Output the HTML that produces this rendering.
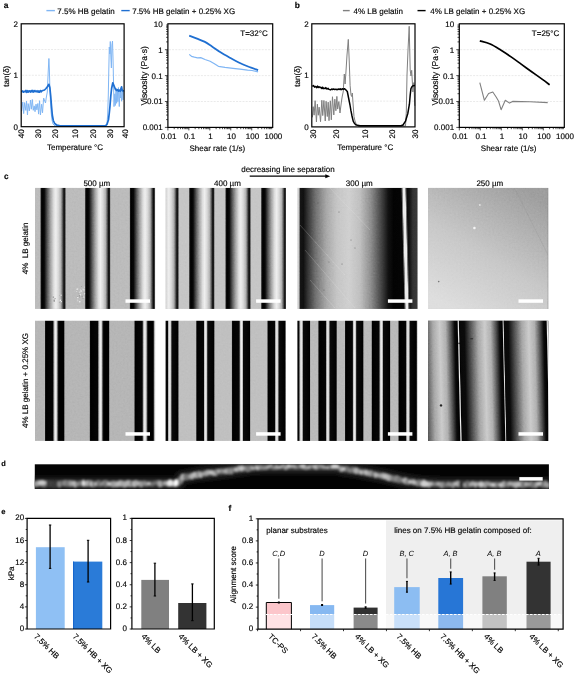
<!DOCTYPE html>
<html><head><meta charset="utf-8"><style>
html,body{margin:0;padding:0;background:#fff;overflow:hidden}
svg{display:block;will-change:transform}
text{font-family:"Liberation Sans",sans-serif;text-rendering:geometricPrecision;stroke:currentColor;stroke-width:0.15px;paint-order:stroke}
</style></head><body>
<svg width="575" height="674" viewBox="0 0 575 674" font-family="Liberation Sans, sans-serif">
<defs><linearGradient id="p1" x1="0" y1="0" x2="1" y2="0"><stop offset="0" stop-color="#9a9a9a"/><stop offset="0.03" stop-color="#151515"/><stop offset="0.07" stop-color="#000"/><stop offset="0.16" stop-color="#080808"/><stop offset="0.29" stop-color="#606060"/><stop offset="0.4" stop-color="#a2a2a2"/><stop offset="0.53" stop-color="#dedede"/><stop offset="0.61" stop-color="#efefef"/><stop offset="0.71" stop-color="#d8d8d8"/><stop offset="0.81" stop-color="#b0b0b0"/><stop offset="0.88" stop-color="#505050"/><stop offset="0.93" stop-color="#080808"/><stop offset="0.97" stop-color="#222"/><stop offset="1" stop-color="#8a8a8a"/></linearGradient><linearGradient id="p2" x1="0" y1="0" x2="1" y2="0"><stop offset="0" stop-color="#303030"/><stop offset="0.04" stop-color="#000"/><stop offset="0.4" stop-color="#050505"/><stop offset="0.47" stop-color="#bdbdbd"/><stop offset="0.53" stop-color="#f4f4f4"/><stop offset="0.6" stop-color="#d0d0d0"/><stop offset="0.68" stop-color="#151515"/><stop offset="0.72" stop-color="#000"/><stop offset="0.97" stop-color="#000"/><stop offset="1" stop-color="#404040"/></linearGradient><linearGradient id="p3" x1="0" y1="0" x2="1" y2="0"><stop offset="0" stop-color="#303030"/><stop offset="0.04" stop-color="#000"/><stop offset="0.4" stop-color="#050505"/><stop offset="0.45" stop-color="#c0c0c0"/><stop offset="0.52" stop-color="#f2f2f2"/><stop offset="0.58" stop-color="#c0c0c0"/><stop offset="0.63" stop-color="#0a0a0a"/><stop offset="0.97" stop-color="#000"/><stop offset="1" stop-color="#404040"/></linearGradient><linearGradient id="p13" x1="0" y1="0" x2="1" y2="0"><stop offset="0" stop-color="#c8c8c8"/><stop offset="0.012" stop-color="#d0d0d0"/><stop offset="0.025" stop-color="#151515"/><stop offset="0.05" stop-color="#101010"/><stop offset="0.085" stop-color="#333"/><stop offset="0.15" stop-color="#707070"/><stop offset="0.24" stop-color="#a8a8a8"/><stop offset="0.33" stop-color="#c6c6c6"/><stop offset="0.43" stop-color="#d0d0d0"/><stop offset="0.52" stop-color="#c0c0c0"/><stop offset="0.61" stop-color="#8e8e8e"/><stop offset="0.7" stop-color="#424242"/><stop offset="0.755" stop-color="#111"/><stop offset="0.8" stop-color="#030303"/><stop offset="0.9" stop-color="#050505"/><stop offset="0.93" stop-color="#111"/><stop offset="0.96" stop-color="#333"/><stop offset="1" stop-color="#3a3a3a"/></linearGradient><linearGradient id="p14" x1="0.2" y1="1" x2="0.8" y2="0"><stop offset="0" stop-color="#dedede"/><stop offset="0.45" stop-color="#c8c8c8"/><stop offset="1" stop-color="#9e9e9e"/></linearGradient><linearGradient id="p24" x1="0" y1="0" x2="1" y2="0"><stop offset="0" stop-color="#080808"/><stop offset="0.1" stop-color="#0a0a0a"/><stop offset="0.25" stop-color="#5a5a5a"/><stop offset="0.4" stop-color="#a8a8a8"/><stop offset="0.55" stop-color="#cccccc"/><stop offset="0.68" stop-color="#b0b0b0"/><stop offset="0.8" stop-color="#505050"/><stop offset="0.88" stop-color="#0a0a0a"/><stop offset="0.94" stop-color="#000"/><stop offset="0.95" stop-color="#606060"/><stop offset="0.965" stop-color="#f8f8f8"/><stop offset="0.98" stop-color="#808080"/><stop offset="0.99" stop-color="#000"/><stop offset="1" stop-color="#000"/></linearGradient><filter id="grain" x="0" y="0" width="100%" height="100%" color-interpolation-filters="sRGB"><feTurbulence type="fractalNoise" baseFrequency="0.55" numOctaves="2" seed="3"/><feColorMatrix type="matrix" values="0.33 0.33 0.33 0 0 0.33 0.33 0.33 0 0 0.33 0.33 0.33 0 0 0 0 0 0 1"/></filter><clipPath id="c1"><rect x="35.00" y="187.80" width="120.30" height="121.10"/></clipPath><clipPath id="c2"><rect x="165.60" y="187.80" width="120.30" height="121.10"/></clipPath><clipPath id="c3"><rect x="297.40" y="187.80" width="120.30" height="121.10"/></clipPath><clipPath id="c4"><rect x="428.00" y="187.80" width="120.30" height="121.10"/></clipPath><clipPath id="c5"><rect x="35.00" y="320.60" width="120.30" height="120.30"/></clipPath><clipPath id="c6"><rect x="165.60" y="320.60" width="120.30" height="120.30"/></clipPath><clipPath id="c7"><rect x="297.40" y="320.60" width="120.30" height="120.30"/></clipPath><clipPath id="c8"><rect x="428.00" y="320.60" width="120.30" height="120.30"/></clipPath><clipPath id="cd"><rect x="34.8" y="464.3" width="514.10" height="24.70"/></clipPath><filter id="bl1" x="-5%" y="-50%" width="110%" height="200%"><feGaussianBlur stdDeviation="1.3"/></filter><filter id="bl2" x="-5%" y="-50%" width="110%" height="200%"><feGaussianBlur stdDeviation="0.8"/></filter></defs><rect width="575" height="674" fill="#fff"/>
<text x="3.80" y="7.90" font-size="8.4" text-anchor="start" font-weight="bold" font-style="normal" fill="#000">a</text>
<line x1="46.40" y1="10.60" x2="54.90" y2="10.60" stroke="#80b6f4" stroke-width="1.4"/>
<text x="57.30" y="13.60" font-size="8" text-anchor="start" font-weight="normal" font-style="normal" fill="#000">7.5% HB gelatin</text>
<line x1="121.30" y1="10.60" x2="129.70" y2="10.60" stroke="#1f6fd1" stroke-width="1.4"/>
<text x="132.20" y="13.60" font-size="8" text-anchor="start" font-weight="normal" font-style="normal" fill="#000">7.5% HB gelatin + 0.25% XG</text>
<line x1="22.20" y1="100.97" x2="123.10" y2="100.97" stroke="#e4e4e4" stroke-width="0.8" stroke-dasharray="2,1.2"/>
<line x1="22.20" y1="75.25" x2="123.10" y2="75.25" stroke="#e4e4e4" stroke-width="0.8" stroke-dasharray="2,1.2"/>
<line x1="22.20" y1="49.52" x2="123.10" y2="49.52" stroke="#e4e4e4" stroke-width="0.8" stroke-dasharray="2,1.2"/>
<text x="18.00" y="26.70" font-size="8" text-anchor="end" font-weight="normal" font-style="normal" fill="#000">2</text>
<text x="18.00" y="78.15" font-size="8" text-anchor="end" font-weight="normal" font-style="normal" fill="#000">1</text>
<text x="18.00" y="129.60" font-size="8" text-anchor="end" font-weight="normal" font-style="normal" fill="#000">0</text>
<text x="24.30" y="129.30" font-size="8" text-anchor="end" font-weight="normal" font-style="normal" fill="#000" transform="rotate(-90 24.299999999999997 129.3)">40</text>
<text x="40.90" y="129.30" font-size="8" text-anchor="end" font-weight="normal" font-style="normal" fill="#000" transform="rotate(-90 40.9 129.3)">30</text>
<text x="58.00" y="129.30" font-size="8" text-anchor="end" font-weight="normal" font-style="normal" fill="#000" transform="rotate(-90 58.0 129.3)">20</text>
<text x="77.90" y="129.30" font-size="8" text-anchor="end" font-weight="normal" font-style="normal" fill="#000" transform="rotate(-90 77.9 129.3)">10</text>
<text x="95.90" y="129.30" font-size="8" text-anchor="end" font-weight="normal" font-style="normal" fill="#000" transform="rotate(-90 95.9 129.3)">20</text>
<text x="113.00" y="129.30" font-size="8" text-anchor="end" font-weight="normal" font-style="normal" fill="#000" transform="rotate(-90 113.0 129.3)">30</text>
<text x="127.90" y="129.30" font-size="8" text-anchor="end" font-weight="normal" font-style="normal" fill="#000" transform="rotate(-90 127.9 129.3)">40</text>
<text x="8.90" y="76.20" font-size="8" text-anchor="middle" font-weight="normal" font-style="normal" fill="#000" transform="rotate(-90 8.9 76.2)">tan(δ)</text>
<text x="75.00" y="150.30" font-size="8" text-anchor="middle" font-weight="normal" font-style="normal" fill="#000">Temperature °C</text>
<polyline points="21.60,111.25 22.81,102.05 23.66,113.58 24.63,102.62 25.80,110.40 26.52,101.04 27.48,115.01 28.18,103.64 29.32,110.92 30.58,100.04 31.30,109.19 32.33,99.53 33.25,110.31 34.21,105.86 35.04,111.68 36.04,104.15 36.88,109.85 37.85,103.50 38.57,114.10 39.60,100.73 40.41,114.98 41.63,104.23 42.53,112.75 43.65,98.07 45.50,103.00 46.20,98.00 47.30,92.00 48.20,72.00 48.90,58.50 49.40,70.00 49.80,86.00 50.40,100.00 51.10,112.00 52.00,120.00 53.00,124.00 55.00,126.00 60.00,126.20 106.00,126.20 107.00,124.00 107.70,114.00 108.30,95.00 108.80,70.00 109.30,47.00 109.80,54.00 110.30,41.50 110.90,58.00 111.40,68.00 111.90,45.00 112.50,41.00 113.00,58.00 113.50,81.00 114.00,106.59 114.82,93.82 115.31,105.46 116.05,88.09 116.63,103.32 117.32,88.92 117.84,101.68 118.45,87.59 119.29,106.53 119.96,90.19 120.52,97.99 120.98,90.00 121.56,101.20 122.36,89.43 123.04,99.86 123.50,91.31" fill="none" stroke="#80b6f4" stroke-width="1.0" stroke-linejoin="round"/>
<polyline points="21.60,91.85 22.52,91.02 23.48,92.16 24.15,91.30 25.23,91.82 25.98,90.44 26.87,92.29 27.76,90.72 28.47,92.09 29.57,90.79 30.60,92.09 31.26,90.57 32.21,91.76 32.86,90.46 33.74,92.09 34.85,90.56 35.97,91.78 37.04,90.76 38.17,92.16 38.85,90.99 39.60,92.22 40.47,90.55 41.26,91.81 42.10,90.76 44.50,90.00 46.00,88.50 47.50,86.50 48.90,84.30 49.90,88.00 50.70,96.00 51.50,106.00 52.30,115.00 53.30,120.50 54.70,123.50 57.00,125.20 60.00,125.80 105.40,125.90 107.00,124.30 108.50,119.70 109.30,113.00 110.00,105.80 110.80,96.00 111.60,88.50 112.80,82.80 114.00,85.80 115.50,89.40 116.80,90.50 117.80,89.80 118.60,91.00 119.40,90.20 120.20,91.30 121.00,88.50 121.60,86.80 122.20,90.50 123.00,91.00 124.00,90.40" fill="none" stroke="#1f6fd1" stroke-width="1.7" stroke-linejoin="round"/>
<rect x="21.20" y="23.80" width="102.90" height="102.90" fill="none" stroke="#000" stroke-width="1.2"/>
<line x1="168.90" y1="49.70" x2="271.70" y2="49.70" stroke="#e4e4e4" stroke-width="0.8" stroke-dasharray="2,1.2"/>
<line x1="168.90" y1="75.60" x2="271.70" y2="75.60" stroke="#e4e4e4" stroke-width="0.8" stroke-dasharray="2,1.2"/>
<line x1="168.90" y1="101.50" x2="271.70" y2="101.50" stroke="#e4e4e4" stroke-width="0.8" stroke-dasharray="2,1.2"/>
<text x="162.70" y="26.70" font-size="8" text-anchor="end" font-weight="normal" font-style="normal" fill="#000">10</text>
<text x="162.70" y="52.60" font-size="8" text-anchor="end" font-weight="normal" font-style="normal" fill="#000">1</text>
<text x="162.70" y="78.50" font-size="8" text-anchor="end" font-weight="normal" font-style="normal" fill="#000">0.1</text>
<text x="162.70" y="104.40" font-size="8" text-anchor="end" font-weight="normal" font-style="normal" fill="#000">0.01</text>
<text x="162.70" y="130.30" font-size="8" text-anchor="end" font-weight="normal" font-style="normal" fill="#000">0.001</text>
<text x="168.60" y="139.00" font-size="8" text-anchor="middle" font-weight="normal" font-style="normal" fill="#000">0.01</text>
<text x="189.56" y="139.00" font-size="8" text-anchor="middle" font-weight="normal" font-style="normal" fill="#000">0.1</text>
<text x="210.52" y="139.00" font-size="8" text-anchor="middle" font-weight="normal" font-style="normal" fill="#000">1</text>
<text x="231.48" y="139.00" font-size="8" text-anchor="middle" font-weight="normal" font-style="normal" fill="#000">10</text>
<text x="252.44" y="139.00" font-size="8" text-anchor="middle" font-weight="normal" font-style="normal" fill="#000">100</text>
<text x="273.40" y="139.00" font-size="8" text-anchor="middle" font-weight="normal" font-style="normal" fill="#000">1000</text>
<line x1="164.90" y1="49.70" x2="167.90" y2="49.70" stroke="#000" stroke-width="0.7"/>
<line x1="166.10" y1="41.90" x2="167.90" y2="41.90" stroke="#000" stroke-width="0.7"/>
<line x1="166.10" y1="37.34" x2="167.90" y2="37.34" stroke="#000" stroke-width="0.7"/>
<line x1="166.10" y1="34.11" x2="167.90" y2="34.11" stroke="#000" stroke-width="0.7"/>
<line x1="166.10" y1="31.60" x2="167.90" y2="31.60" stroke="#000" stroke-width="0.7"/>
<line x1="166.10" y1="29.55" x2="167.90" y2="29.55" stroke="#000" stroke-width="0.7"/>
<line x1="166.10" y1="27.81" x2="167.90" y2="27.81" stroke="#000" stroke-width="0.7"/>
<line x1="166.10" y1="26.31" x2="167.90" y2="26.31" stroke="#000" stroke-width="0.7"/>
<line x1="166.10" y1="24.99" x2="167.90" y2="24.99" stroke="#000" stroke-width="0.7"/>
<line x1="164.90" y1="75.60" x2="167.90" y2="75.60" stroke="#000" stroke-width="0.7"/>
<line x1="166.10" y1="67.80" x2="167.90" y2="67.80" stroke="#000" stroke-width="0.7"/>
<line x1="166.10" y1="63.24" x2="167.90" y2="63.24" stroke="#000" stroke-width="0.7"/>
<line x1="166.10" y1="60.01" x2="167.90" y2="60.01" stroke="#000" stroke-width="0.7"/>
<line x1="166.10" y1="57.50" x2="167.90" y2="57.50" stroke="#000" stroke-width="0.7"/>
<line x1="166.10" y1="55.45" x2="167.90" y2="55.45" stroke="#000" stroke-width="0.7"/>
<line x1="166.10" y1="53.71" x2="167.90" y2="53.71" stroke="#000" stroke-width="0.7"/>
<line x1="166.10" y1="52.21" x2="167.90" y2="52.21" stroke="#000" stroke-width="0.7"/>
<line x1="166.10" y1="50.89" x2="167.90" y2="50.89" stroke="#000" stroke-width="0.7"/>
<line x1="164.90" y1="101.50" x2="167.90" y2="101.50" stroke="#000" stroke-width="0.7"/>
<line x1="166.10" y1="93.70" x2="167.90" y2="93.70" stroke="#000" stroke-width="0.7"/>
<line x1="166.10" y1="89.14" x2="167.90" y2="89.14" stroke="#000" stroke-width="0.7"/>
<line x1="166.10" y1="85.91" x2="167.90" y2="85.91" stroke="#000" stroke-width="0.7"/>
<line x1="166.10" y1="83.40" x2="167.90" y2="83.40" stroke="#000" stroke-width="0.7"/>
<line x1="166.10" y1="81.35" x2="167.90" y2="81.35" stroke="#000" stroke-width="0.7"/>
<line x1="166.10" y1="79.61" x2="167.90" y2="79.61" stroke="#000" stroke-width="0.7"/>
<line x1="166.10" y1="78.11" x2="167.90" y2="78.11" stroke="#000" stroke-width="0.7"/>
<line x1="166.10" y1="76.79" x2="167.90" y2="76.79" stroke="#000" stroke-width="0.7"/>
<line x1="164.90" y1="127.40" x2="167.90" y2="127.40" stroke="#000" stroke-width="0.7"/>
<line x1="166.10" y1="119.60" x2="167.90" y2="119.60" stroke="#000" stroke-width="0.7"/>
<line x1="166.10" y1="115.04" x2="167.90" y2="115.04" stroke="#000" stroke-width="0.7"/>
<line x1="166.10" y1="111.81" x2="167.90" y2="111.81" stroke="#000" stroke-width="0.7"/>
<line x1="166.10" y1="109.30" x2="167.90" y2="109.30" stroke="#000" stroke-width="0.7"/>
<line x1="166.10" y1="107.25" x2="167.90" y2="107.25" stroke="#000" stroke-width="0.7"/>
<line x1="166.10" y1="105.51" x2="167.90" y2="105.51" stroke="#000" stroke-width="0.7"/>
<line x1="166.10" y1="104.01" x2="167.90" y2="104.01" stroke="#000" stroke-width="0.7"/>
<line x1="166.10" y1="102.69" x2="167.90" y2="102.69" stroke="#000" stroke-width="0.7"/>
<line x1="167.90" y1="127.40" x2="167.90" y2="130.40" stroke="#000" stroke-width="0.7"/>
<line x1="174.21" y1="127.40" x2="174.21" y2="129.20" stroke="#000" stroke-width="0.7"/>
<line x1="177.90" y1="127.40" x2="177.90" y2="129.20" stroke="#000" stroke-width="0.7"/>
<line x1="180.52" y1="127.40" x2="180.52" y2="129.20" stroke="#000" stroke-width="0.7"/>
<line x1="182.55" y1="127.40" x2="182.55" y2="129.20" stroke="#000" stroke-width="0.7"/>
<line x1="184.21" y1="127.40" x2="184.21" y2="129.20" stroke="#000" stroke-width="0.7"/>
<line x1="185.61" y1="127.40" x2="185.61" y2="129.20" stroke="#000" stroke-width="0.7"/>
<line x1="186.83" y1="127.40" x2="186.83" y2="129.20" stroke="#000" stroke-width="0.7"/>
<line x1="187.90" y1="127.40" x2="187.90" y2="129.20" stroke="#000" stroke-width="0.7"/>
<line x1="188.86" y1="127.40" x2="188.86" y2="130.40" stroke="#000" stroke-width="0.7"/>
<line x1="195.17" y1="127.40" x2="195.17" y2="129.20" stroke="#000" stroke-width="0.7"/>
<line x1="198.86" y1="127.40" x2="198.86" y2="129.20" stroke="#000" stroke-width="0.7"/>
<line x1="201.48" y1="127.40" x2="201.48" y2="129.20" stroke="#000" stroke-width="0.7"/>
<line x1="203.51" y1="127.40" x2="203.51" y2="129.20" stroke="#000" stroke-width="0.7"/>
<line x1="205.17" y1="127.40" x2="205.17" y2="129.20" stroke="#000" stroke-width="0.7"/>
<line x1="206.57" y1="127.40" x2="206.57" y2="129.20" stroke="#000" stroke-width="0.7"/>
<line x1="207.79" y1="127.40" x2="207.79" y2="129.20" stroke="#000" stroke-width="0.7"/>
<line x1="208.86" y1="127.40" x2="208.86" y2="129.20" stroke="#000" stroke-width="0.7"/>
<line x1="209.82" y1="127.40" x2="209.82" y2="130.40" stroke="#000" stroke-width="0.7"/>
<line x1="216.13" y1="127.40" x2="216.13" y2="129.20" stroke="#000" stroke-width="0.7"/>
<line x1="219.82" y1="127.40" x2="219.82" y2="129.20" stroke="#000" stroke-width="0.7"/>
<line x1="222.44" y1="127.40" x2="222.44" y2="129.20" stroke="#000" stroke-width="0.7"/>
<line x1="224.47" y1="127.40" x2="224.47" y2="129.20" stroke="#000" stroke-width="0.7"/>
<line x1="226.13" y1="127.40" x2="226.13" y2="129.20" stroke="#000" stroke-width="0.7"/>
<line x1="227.53" y1="127.40" x2="227.53" y2="129.20" stroke="#000" stroke-width="0.7"/>
<line x1="228.75" y1="127.40" x2="228.75" y2="129.20" stroke="#000" stroke-width="0.7"/>
<line x1="229.82" y1="127.40" x2="229.82" y2="129.20" stroke="#000" stroke-width="0.7"/>
<line x1="230.78" y1="127.40" x2="230.78" y2="130.40" stroke="#000" stroke-width="0.7"/>
<line x1="237.09" y1="127.40" x2="237.09" y2="129.20" stroke="#000" stroke-width="0.7"/>
<line x1="240.78" y1="127.40" x2="240.78" y2="129.20" stroke="#000" stroke-width="0.7"/>
<line x1="243.40" y1="127.40" x2="243.40" y2="129.20" stroke="#000" stroke-width="0.7"/>
<line x1="245.43" y1="127.40" x2="245.43" y2="129.20" stroke="#000" stroke-width="0.7"/>
<line x1="247.09" y1="127.40" x2="247.09" y2="129.20" stroke="#000" stroke-width="0.7"/>
<line x1="248.49" y1="127.40" x2="248.49" y2="129.20" stroke="#000" stroke-width="0.7"/>
<line x1="249.71" y1="127.40" x2="249.71" y2="129.20" stroke="#000" stroke-width="0.7"/>
<line x1="250.78" y1="127.40" x2="250.78" y2="129.20" stroke="#000" stroke-width="0.7"/>
<line x1="251.74" y1="127.40" x2="251.74" y2="130.40" stroke="#000" stroke-width="0.7"/>
<line x1="258.05" y1="127.40" x2="258.05" y2="129.20" stroke="#000" stroke-width="0.7"/>
<line x1="261.74" y1="127.40" x2="261.74" y2="129.20" stroke="#000" stroke-width="0.7"/>
<line x1="264.36" y1="127.40" x2="264.36" y2="129.20" stroke="#000" stroke-width="0.7"/>
<line x1="266.39" y1="127.40" x2="266.39" y2="129.20" stroke="#000" stroke-width="0.7"/>
<line x1="268.05" y1="127.40" x2="268.05" y2="129.20" stroke="#000" stroke-width="0.7"/>
<line x1="269.45" y1="127.40" x2="269.45" y2="129.20" stroke="#000" stroke-width="0.7"/>
<line x1="270.67" y1="127.40" x2="270.67" y2="129.20" stroke="#000" stroke-width="0.7"/>
<line x1="271.74" y1="127.40" x2="271.74" y2="129.20" stroke="#000" stroke-width="0.7"/>
<text x="267.70" y="36.10" font-size="8" text-anchor="end" font-weight="normal" font-style="normal" fill="#000">T=32°C</text>
<text x="147.00" y="75.80" font-size="8.6" text-anchor="middle" font-weight="normal" font-style="normal" fill="#000" transform="rotate(-90 147.0 75.8)">Viscosity (Pa·s)</text>
<text x="217.30" y="150.50" font-size="8" text-anchor="middle" font-weight="normal" font-style="normal" fill="#000">Shear rate (1/s)</text>
<path d="M189.20,35.70 C190.50,36.18 194.38,37.57 197.00,38.60 C199.62,39.63 202.40,40.58 204.90,41.90 C207.40,43.22 209.40,44.77 212.00,46.50 C214.60,48.23 217.50,50.42 220.50,52.30 C223.50,54.18 226.87,56.05 230.00,57.80 C233.13,59.55 236.30,61.35 239.30,62.80 C242.30,64.25 244.87,65.28 248.00,66.50 C251.13,67.72 256.42,69.50 258.10,70.10" fill="none" stroke="#1f6fd1" stroke-width="1.8" stroke-linecap="butt"/>
<polyline points="189.20,54.40 191.50,56.30 194.40,57.10 197.50,57.80 200.70,57.60 205.00,59.50 210.10,61.30 214.00,63.50 218.40,66.30 225.00,67.40 233.00,68.40 240.00,69.20 247.60,70.10 252.00,70.50 258.10,71.80" fill="none" stroke="#80b6f4" stroke-width="1.2" stroke-linejoin="round"/>
<rect x="167.90" y="23.80" width="104.80" height="103.60" fill="none" stroke="#000" stroke-width="1.2"/>
<text x="294.80" y="7.90" font-size="8.4" text-anchor="start" font-weight="bold" font-style="normal" fill="#000">b</text>
<line x1="342.90" y1="10.60" x2="349.70" y2="10.60" stroke="#808080" stroke-width="1.4"/>
<text x="353.50" y="13.60" font-size="8" text-anchor="start" font-weight="normal" font-style="normal" fill="#000">4% LB gelatin</text>
<line x1="417.50" y1="10.60" x2="425.60" y2="10.60" stroke="#000" stroke-width="1.4"/>
<text x="430.20" y="13.60" font-size="8" text-anchor="start" font-weight="normal" font-style="normal" fill="#000">4% LB gelatin + 0.25% XG</text>
<line x1="312.80" y1="101.12" x2="414.00" y2="101.12" stroke="#e4e4e4" stroke-width="0.8" stroke-dasharray="2,1.2"/>
<line x1="312.80" y1="75.35" x2="414.00" y2="75.35" stroke="#e4e4e4" stroke-width="0.8" stroke-dasharray="2,1.2"/>
<line x1="312.80" y1="49.58" x2="414.00" y2="49.58" stroke="#e4e4e4" stroke-width="0.8" stroke-dasharray="2,1.2"/>
<text x="308.60" y="26.70" font-size="8" text-anchor="end" font-weight="normal" font-style="normal" fill="#000">2</text>
<text x="308.60" y="78.25" font-size="8" text-anchor="end" font-weight="normal" font-style="normal" fill="#000">1</text>
<text x="308.60" y="129.80" font-size="8" text-anchor="end" font-weight="normal" font-style="normal" fill="#000">0</text>
<text x="315.80" y="129.50" font-size="8" text-anchor="end" font-weight="normal" font-style="normal" fill="#000" transform="rotate(-90 315.79999999999995 129.5)">30</text>
<text x="338.80" y="129.50" font-size="8" text-anchor="end" font-weight="normal" font-style="normal" fill="#000" transform="rotate(-90 338.79999999999995 129.5)">20</text>
<text x="367.60" y="129.50" font-size="8" text-anchor="end" font-weight="normal" font-style="normal" fill="#000" transform="rotate(-90 367.59999999999997 129.5)">10</text>
<text x="394.70" y="129.50" font-size="8" text-anchor="end" font-weight="normal" font-style="normal" fill="#000" transform="rotate(-90 394.7 129.5)">20</text>
<text x="417.70" y="129.50" font-size="8" text-anchor="end" font-weight="normal" font-style="normal" fill="#000" transform="rotate(-90 417.7 129.5)">30</text>
<text x="299.60" y="76.20" font-size="8" text-anchor="middle" font-weight="normal" font-style="normal" fill="#000" transform="rotate(-90 299.6 76.2)">tan(δ)</text>
<text x="365.20" y="150.30" font-size="8" text-anchor="middle" font-weight="normal" font-style="normal" fill="#000">Temperature °C</text>
<polyline points="312.40,117.38 313.24,106.71 314.11,115.16 315.15,100.69 316.44,122.00 317.36,104.19 318.31,115.24 319.15,107.16 320.54,121.66 321.84,100.27 322.74,115.59 323.92,100.48 325.25,121.02 326.08,101.28 327.29,116.54 328.18,102.16 329.01,120.67 330.35,100.83 331.32,119.82 332.47,96.75 333.80,114.95 334.84,99.17 335.89,110.74 336.87,96.40 337.66,109.07 338.85,101.56 339.97,113.01 341.50,101.00 342.30,96.00 343.20,92.00 344.30,74.00 345.10,84.00 346.00,71.00 347.00,55.00 348.30,39.40 349.20,60.00 350.10,85.70 351.00,95.00 351.70,96.50 352.30,93.00 353.00,103.00 354.00,116.60 355.00,121.00 356.30,124.30 358.00,126.00 405.50,126.00 406.30,112.00 407.00,75.00 408.00,50.00 409.20,26.30 410.20,70.00 411.00,76.00 411.70,70.30 412.90,92.00 413.80,82.60 414.80,105.80" fill="none" stroke="#808080" stroke-width="1.0" stroke-linejoin="round"/>
<polyline points="312.40,86.61 313.43,85.45 314.57,87.11 315.70,86.46 316.58,87.64 317.56,86.14 318.25,87.59 319.01,86.69 319.95,87.56 320.70,87.21 321.83,88.49 322.54,87.16 323.25,88.64 323.95,88.03 325.05,88.67 325.79,87.62 326.89,89.07 328.04,88.39 329.04,89.41 330.50,89.89 331.69,89.05 332.55,89.46 333.65,89.03 334.80,89.62 335.97,89.10 337.15,89.78 338.10,88.94 339.20,89.48 340.24,88.77 341.10,89.76 342.21,88.73 343.11,89.37 344.29,88.72 345.26,89.35 347.30,91.50 348.60,98.00 350.00,105.00 350.90,110.40 352.00,116.00 353.20,121.20 354.50,123.50 356.30,125.10 360.00,125.80 400.90,125.80 403.00,125.00 405.50,121.20 407.80,113.50 409.40,104.20 410.20,95.00 410.90,88.80 412.00,86.50 413.20,85.70 415.00,85.50" fill="none" stroke="#000" stroke-width="1.5" stroke-linejoin="round"/>
<rect x="311.80" y="23.80" width="103.20" height="103.10" fill="none" stroke="#000" stroke-width="1.2"/>
<line x1="460.30" y1="49.70" x2="563.30" y2="49.70" stroke="#e4e4e4" stroke-width="0.8" stroke-dasharray="2,1.2"/>
<line x1="460.30" y1="75.60" x2="563.30" y2="75.60" stroke="#e4e4e4" stroke-width="0.8" stroke-dasharray="2,1.2"/>
<line x1="460.30" y1="101.50" x2="563.30" y2="101.50" stroke="#e4e4e4" stroke-width="0.8" stroke-dasharray="2,1.2"/>
<text x="454.10" y="26.70" font-size="8" text-anchor="end" font-weight="normal" font-style="normal" fill="#000">10</text>
<text x="454.10" y="52.60" font-size="8" text-anchor="end" font-weight="normal" font-style="normal" fill="#000">1</text>
<text x="454.10" y="78.50" font-size="8" text-anchor="end" font-weight="normal" font-style="normal" fill="#000">0.1</text>
<text x="454.10" y="104.40" font-size="8" text-anchor="end" font-weight="normal" font-style="normal" fill="#000">0.01</text>
<text x="454.10" y="130.30" font-size="8" text-anchor="end" font-weight="normal" font-style="normal" fill="#000">0.001</text>
<text x="460.00" y="139.00" font-size="8" text-anchor="middle" font-weight="normal" font-style="normal" fill="#000">0.01</text>
<text x="481.00" y="139.00" font-size="8" text-anchor="middle" font-weight="normal" font-style="normal" fill="#000">0.1</text>
<text x="502.00" y="139.00" font-size="8" text-anchor="middle" font-weight="normal" font-style="normal" fill="#000">1</text>
<text x="523.00" y="139.00" font-size="8" text-anchor="middle" font-weight="normal" font-style="normal" fill="#000">10</text>
<text x="544.00" y="139.00" font-size="8" text-anchor="middle" font-weight="normal" font-style="normal" fill="#000">100</text>
<text x="565.00" y="139.00" font-size="8" text-anchor="middle" font-weight="normal" font-style="normal" fill="#000">1000</text>
<line x1="456.30" y1="49.70" x2="459.30" y2="49.70" stroke="#000" stroke-width="0.7"/>
<line x1="457.50" y1="41.90" x2="459.30" y2="41.90" stroke="#000" stroke-width="0.7"/>
<line x1="457.50" y1="37.34" x2="459.30" y2="37.34" stroke="#000" stroke-width="0.7"/>
<line x1="457.50" y1="34.11" x2="459.30" y2="34.11" stroke="#000" stroke-width="0.7"/>
<line x1="457.50" y1="31.60" x2="459.30" y2="31.60" stroke="#000" stroke-width="0.7"/>
<line x1="457.50" y1="29.55" x2="459.30" y2="29.55" stroke="#000" stroke-width="0.7"/>
<line x1="457.50" y1="27.81" x2="459.30" y2="27.81" stroke="#000" stroke-width="0.7"/>
<line x1="457.50" y1="26.31" x2="459.30" y2="26.31" stroke="#000" stroke-width="0.7"/>
<line x1="457.50" y1="24.99" x2="459.30" y2="24.99" stroke="#000" stroke-width="0.7"/>
<line x1="456.30" y1="75.60" x2="459.30" y2="75.60" stroke="#000" stroke-width="0.7"/>
<line x1="457.50" y1="67.80" x2="459.30" y2="67.80" stroke="#000" stroke-width="0.7"/>
<line x1="457.50" y1="63.24" x2="459.30" y2="63.24" stroke="#000" stroke-width="0.7"/>
<line x1="457.50" y1="60.01" x2="459.30" y2="60.01" stroke="#000" stroke-width="0.7"/>
<line x1="457.50" y1="57.50" x2="459.30" y2="57.50" stroke="#000" stroke-width="0.7"/>
<line x1="457.50" y1="55.45" x2="459.30" y2="55.45" stroke="#000" stroke-width="0.7"/>
<line x1="457.50" y1="53.71" x2="459.30" y2="53.71" stroke="#000" stroke-width="0.7"/>
<line x1="457.50" y1="52.21" x2="459.30" y2="52.21" stroke="#000" stroke-width="0.7"/>
<line x1="457.50" y1="50.89" x2="459.30" y2="50.89" stroke="#000" stroke-width="0.7"/>
<line x1="456.30" y1="101.50" x2="459.30" y2="101.50" stroke="#000" stroke-width="0.7"/>
<line x1="457.50" y1="93.70" x2="459.30" y2="93.70" stroke="#000" stroke-width="0.7"/>
<line x1="457.50" y1="89.14" x2="459.30" y2="89.14" stroke="#000" stroke-width="0.7"/>
<line x1="457.50" y1="85.91" x2="459.30" y2="85.91" stroke="#000" stroke-width="0.7"/>
<line x1="457.50" y1="83.40" x2="459.30" y2="83.40" stroke="#000" stroke-width="0.7"/>
<line x1="457.50" y1="81.35" x2="459.30" y2="81.35" stroke="#000" stroke-width="0.7"/>
<line x1="457.50" y1="79.61" x2="459.30" y2="79.61" stroke="#000" stroke-width="0.7"/>
<line x1="457.50" y1="78.11" x2="459.30" y2="78.11" stroke="#000" stroke-width="0.7"/>
<line x1="457.50" y1="76.79" x2="459.30" y2="76.79" stroke="#000" stroke-width="0.7"/>
<line x1="456.30" y1="127.40" x2="459.30" y2="127.40" stroke="#000" stroke-width="0.7"/>
<line x1="457.50" y1="119.60" x2="459.30" y2="119.60" stroke="#000" stroke-width="0.7"/>
<line x1="457.50" y1="115.04" x2="459.30" y2="115.04" stroke="#000" stroke-width="0.7"/>
<line x1="457.50" y1="111.81" x2="459.30" y2="111.81" stroke="#000" stroke-width="0.7"/>
<line x1="457.50" y1="109.30" x2="459.30" y2="109.30" stroke="#000" stroke-width="0.7"/>
<line x1="457.50" y1="107.25" x2="459.30" y2="107.25" stroke="#000" stroke-width="0.7"/>
<line x1="457.50" y1="105.51" x2="459.30" y2="105.51" stroke="#000" stroke-width="0.7"/>
<line x1="457.50" y1="104.01" x2="459.30" y2="104.01" stroke="#000" stroke-width="0.7"/>
<line x1="457.50" y1="102.69" x2="459.30" y2="102.69" stroke="#000" stroke-width="0.7"/>
<line x1="459.30" y1="127.40" x2="459.30" y2="130.40" stroke="#000" stroke-width="0.7"/>
<line x1="465.62" y1="127.40" x2="465.62" y2="129.20" stroke="#000" stroke-width="0.7"/>
<line x1="469.32" y1="127.40" x2="469.32" y2="129.20" stroke="#000" stroke-width="0.7"/>
<line x1="471.94" y1="127.40" x2="471.94" y2="129.20" stroke="#000" stroke-width="0.7"/>
<line x1="473.98" y1="127.40" x2="473.98" y2="129.20" stroke="#000" stroke-width="0.7"/>
<line x1="475.64" y1="127.40" x2="475.64" y2="129.20" stroke="#000" stroke-width="0.7"/>
<line x1="477.05" y1="127.40" x2="477.05" y2="129.20" stroke="#000" stroke-width="0.7"/>
<line x1="478.26" y1="127.40" x2="478.26" y2="129.20" stroke="#000" stroke-width="0.7"/>
<line x1="479.34" y1="127.40" x2="479.34" y2="129.20" stroke="#000" stroke-width="0.7"/>
<line x1="480.30" y1="127.40" x2="480.30" y2="130.40" stroke="#000" stroke-width="0.7"/>
<line x1="486.62" y1="127.40" x2="486.62" y2="129.20" stroke="#000" stroke-width="0.7"/>
<line x1="490.32" y1="127.40" x2="490.32" y2="129.20" stroke="#000" stroke-width="0.7"/>
<line x1="492.94" y1="127.40" x2="492.94" y2="129.20" stroke="#000" stroke-width="0.7"/>
<line x1="494.98" y1="127.40" x2="494.98" y2="129.20" stroke="#000" stroke-width="0.7"/>
<line x1="496.64" y1="127.40" x2="496.64" y2="129.20" stroke="#000" stroke-width="0.7"/>
<line x1="498.05" y1="127.40" x2="498.05" y2="129.20" stroke="#000" stroke-width="0.7"/>
<line x1="499.26" y1="127.40" x2="499.26" y2="129.20" stroke="#000" stroke-width="0.7"/>
<line x1="500.34" y1="127.40" x2="500.34" y2="129.20" stroke="#000" stroke-width="0.7"/>
<line x1="501.30" y1="127.40" x2="501.30" y2="130.40" stroke="#000" stroke-width="0.7"/>
<line x1="507.62" y1="127.40" x2="507.62" y2="129.20" stroke="#000" stroke-width="0.7"/>
<line x1="511.32" y1="127.40" x2="511.32" y2="129.20" stroke="#000" stroke-width="0.7"/>
<line x1="513.94" y1="127.40" x2="513.94" y2="129.20" stroke="#000" stroke-width="0.7"/>
<line x1="515.98" y1="127.40" x2="515.98" y2="129.20" stroke="#000" stroke-width="0.7"/>
<line x1="517.64" y1="127.40" x2="517.64" y2="129.20" stroke="#000" stroke-width="0.7"/>
<line x1="519.05" y1="127.40" x2="519.05" y2="129.20" stroke="#000" stroke-width="0.7"/>
<line x1="520.26" y1="127.40" x2="520.26" y2="129.20" stroke="#000" stroke-width="0.7"/>
<line x1="521.34" y1="127.40" x2="521.34" y2="129.20" stroke="#000" stroke-width="0.7"/>
<line x1="522.30" y1="127.40" x2="522.30" y2="130.40" stroke="#000" stroke-width="0.7"/>
<line x1="528.62" y1="127.40" x2="528.62" y2="129.20" stroke="#000" stroke-width="0.7"/>
<line x1="532.32" y1="127.40" x2="532.32" y2="129.20" stroke="#000" stroke-width="0.7"/>
<line x1="534.94" y1="127.40" x2="534.94" y2="129.20" stroke="#000" stroke-width="0.7"/>
<line x1="536.98" y1="127.40" x2="536.98" y2="129.20" stroke="#000" stroke-width="0.7"/>
<line x1="538.64" y1="127.40" x2="538.64" y2="129.20" stroke="#000" stroke-width="0.7"/>
<line x1="540.05" y1="127.40" x2="540.05" y2="129.20" stroke="#000" stroke-width="0.7"/>
<line x1="541.26" y1="127.40" x2="541.26" y2="129.20" stroke="#000" stroke-width="0.7"/>
<line x1="542.34" y1="127.40" x2="542.34" y2="129.20" stroke="#000" stroke-width="0.7"/>
<line x1="543.30" y1="127.40" x2="543.30" y2="130.40" stroke="#000" stroke-width="0.7"/>
<line x1="549.62" y1="127.40" x2="549.62" y2="129.20" stroke="#000" stroke-width="0.7"/>
<line x1="553.32" y1="127.40" x2="553.32" y2="129.20" stroke="#000" stroke-width="0.7"/>
<line x1="555.94" y1="127.40" x2="555.94" y2="129.20" stroke="#000" stroke-width="0.7"/>
<line x1="557.98" y1="127.40" x2="557.98" y2="129.20" stroke="#000" stroke-width="0.7"/>
<line x1="559.64" y1="127.40" x2="559.64" y2="129.20" stroke="#000" stroke-width="0.7"/>
<line x1="561.05" y1="127.40" x2="561.05" y2="129.20" stroke="#000" stroke-width="0.7"/>
<line x1="562.26" y1="127.40" x2="562.26" y2="129.20" stroke="#000" stroke-width="0.7"/>
<line x1="563.34" y1="127.40" x2="563.34" y2="129.20" stroke="#000" stroke-width="0.7"/>
<text x="559.30" y="36.10" font-size="8" text-anchor="end" font-weight="normal" font-style="normal" fill="#000">T=25°C</text>
<text x="438.20" y="75.80" font-size="8.6" text-anchor="middle" font-weight="normal" font-style="normal" fill="#000" transform="rotate(-90 438.2 75.8)">Viscosity (Pa·s)</text>
<text x="508.60" y="150.50" font-size="8" text-anchor="middle" font-weight="normal" font-style="normal" fill="#000">Shear rate (1/s)</text>
<path d="M479.80,40.90 C481.53,41.42 486.72,42.48 490.20,44.00 C493.68,45.52 497.22,47.85 500.70,50.00 C504.18,52.15 507.63,54.50 511.10,56.90 C514.57,59.30 518.02,61.88 521.50,64.40 C524.98,66.92 528.52,69.50 532.00,72.00 C535.48,74.50 539.45,77.27 542.40,79.40 C545.35,81.53 548.48,83.90 549.70,84.80" fill="none" stroke="#000" stroke-width="1.7" stroke-linecap="butt"/>
<polyline points="479.80,82.60 484.40,100.30 488.60,93.50 492.80,92.00 496.30,97.20 498.50,101.00 501.10,109.70 505.30,100.30 509.50,103.10 512.60,101.40 530.00,101.80 547.70,102.60" fill="none" stroke="#808080" stroke-width="1.1" stroke-linejoin="round"/>
<rect x="459.30" y="23.80" width="105.00" height="103.60" fill="none" stroke="#000" stroke-width="1.2"/>
<g clip-path="url(#c1)">
<rect x="35.00" y="187.80" width="120.30" height="121.10" fill="#bcbcbc"/>
<rect x="40.20" y="187.80" width="25.60" height="121.10" fill="url(#p1)"/>
<rect x="84.90" y="187.80" width="25.60" height="121.10" fill="url(#p1)"/>
<rect x="129.50" y="187.80" width="25.60" height="121.10" fill="url(#p1)"/>
<circle cx="79.8" cy="292.7" r="0.5" fill="#f2f2f2"/><circle cx="84.4" cy="293.6" r="0.8" fill="#f2f2f2"/><circle cx="80.5" cy="289.8" r="0.4" fill="#f2f2f2"/><circle cx="84.0" cy="292.9" r="0.5" fill="#8c8c8c"/><circle cx="83.9" cy="297.1" r="0.6" fill="#f2f2f2"/><circle cx="81.4" cy="286.5" r="0.5" fill="#a0a0a0"/><circle cx="82.1" cy="296.4" r="0.8" fill="#a0a0a0"/><circle cx="77.7" cy="299.1" r="0.4" fill="#e8e8e8"/><circle cx="80.1" cy="294.8" r="0.5" fill="#e8e8e8"/><circle cx="77.7" cy="296.6" r="0.6" fill="#a0a0a0"/><circle cx="77.1" cy="289.2" r="0.7" fill="#f2f2f2"/><circle cx="84.4" cy="287.1" r="0.6" fill="#d8d8d8"/><circle cx="83.1" cy="289.2" r="0.8" fill="#d8d8d8"/><circle cx="79.8" cy="291.8" r="0.6" fill="#d8d8d8"/><circle cx="79.0" cy="293.8" r="0.5" fill="#a0a0a0"/><circle cx="77.8" cy="297.5" r="0.8" fill="#e8e8e8"/><circle cx="80.4" cy="294.8" r="0.7" fill="#e8e8e8"/><circle cx="81.1" cy="291.1" r="0.8" fill="#f2f2f2"/><circle cx="77.9" cy="288.7" r="0.5" fill="#e8e8e8"/><circle cx="79.3" cy="295.6" r="0.5" fill="#8c8c8c"/><circle cx="77.8" cy="300.8" r="0.5" fill="#e8e8e8"/><circle cx="79.5" cy="296.9" r="0.7" fill="#a0a0a0"/><circle cx="79.8" cy="301.8" r="0.8" fill="#f2f2f2"/><circle cx="76.6" cy="291.5" r="0.6" fill="#d8d8d8"/><circle cx="84.0" cy="289.9" r="0.6" fill="#f2f2f2"/><circle cx="82.9" cy="298.4" r="0.6" fill="#a0a0a0"/><circle cx="53.4" cy="297.3" r="0.5" fill="#8c8c8c"/><circle cx="55.1" cy="298.6" r="0.7" fill="#a0a0a0"/><circle cx="61.4" cy="301.7" r="0.6" fill="#f2f2f2"/><circle cx="54.2" cy="300.9" r="0.8" fill="#8c8c8c"/><circle cx="53.2" cy="296.9" r="0.7" fill="#a0a0a0"/><circle cx="60.5" cy="300.4" r="0.6" fill="#f2f2f2"/><circle cx="60.7" cy="299.3" r="0.5" fill="#d8d8d8"/><circle cx="55.3" cy="301.9" r="0.4" fill="#d8d8d8"/><circle cx="61.1" cy="295.2" r="0.6" fill="#f2f2f2"/><circle cx="60.2" cy="300.3" r="0.5" fill="#f2f2f2"/><circle cx="59.4" cy="302.3" r="0.5" fill="#a0a0a0"/><circle cx="53.8" cy="295.8" r="0.4" fill="#f2f2f2"/><circle cx="59.7" cy="295.6" r="0.4" fill="#a0a0a0"/><circle cx="54.1" cy="299.8" r="0.5" fill="#8c8c8c"/>
<rect x="35.00" y="187.80" width="120.30" height="121.10" filter="url(#grain)" opacity="0.13" style="mix-blend-mode:overlay"/>
</g>
<g clip-path="url(#c2)">
<rect x="165.60" y="187.80" width="120.30" height="121.10" fill="#c6c6c6"/>
<rect x="153.20" y="187.80" width="25.60" height="121.10" fill="url(#p1)"/>
<rect x="189.00" y="187.80" width="25.60" height="121.10" fill="url(#p1)"/>
<rect x="225.20" y="187.80" width="25.60" height="121.10" fill="url(#p1)"/>
<rect x="261.00" y="187.80" width="25.60" height="121.10" fill="url(#p1)"/>
<rect x="165.60" y="187.80" width="120.30" height="121.10" filter="url(#grain)" opacity="0.13" style="mix-blend-mode:overlay"/>
</g>
<g clip-path="url(#c3)">
<rect x="297.40" y="187.80" width="120.30" height="121.10" fill="#bdbdbd"/>
<rect x="297.40" y="187.80" width="120.30" height="121.10" fill="url(#p13)"/>
<line x1="300" y1="225" x2="345" y2="275" stroke="#e8e8e8" stroke-width="0.6" opacity="0.35"/>
<line x1="305" y1="250" x2="355" y2="308" stroke="#e8e8e8" stroke-width="0.6" opacity="0.35"/>
<line x1="330" y1="188" x2="370" y2="230" stroke="#e8e8e8" stroke-width="0.6" opacity="0.35"/>
<line x1="310" y1="280" x2="335" y2="308" stroke="#e8e8e8" stroke-width="0.6" opacity="0.35"/>
<circle cx="318" cy="203" r="0.6" fill="#444" opacity="0.6"/>
<circle cx="339" cy="212" r="0.6" fill="#444" opacity="0.6"/>
<circle cx="351" cy="240" r="0.6" fill="#444" opacity="0.6"/>
<circle cx="329" cy="262" r="0.6" fill="#444" opacity="0.6"/>
<circle cx="342" cy="264" r="0.6" fill="#444" opacity="0.6"/>
<circle cx="355" cy="248" r="0.6" fill="#444" opacity="0.6"/>
<circle cx="324" cy="290" r="0.6" fill="#444" opacity="0.6"/>
<polygon points="402.3,187.8 405.6,187.8 408.6,308.9 405.3,308.9" fill="#ececec"/>
<polygon points="401.6,187.8 402.4,187.8 405.4,308.9 404.6,308.9" fill="#888"/>
<polygon points="405.5,187.8 406.3,187.8 409.3,308.9 408.5,308.9" fill="#777"/>
<rect x="297.40" y="187.80" width="120.30" height="121.10" filter="url(#grain)" opacity="0.13" style="mix-blend-mode:overlay"/>
</g>
<g clip-path="url(#c4)">
<rect x="428.00" y="187.80" width="120.30" height="121.10" fill="#c8c8c8"/>
<rect x="428.00" y="187.80" width="120.30" height="121.10" fill="url(#p14)"/>
<line x1="514.5" y1="188" x2="548" y2="255" stroke="#8a8a8a" stroke-width="0.7" opacity="0.35"/><line x1="548.3" y1="188" x2="548.3" y2="309" stroke="#777" stroke-width="1"/>
<circle cx="474.4" cy="228" r="1.3" fill="#f4f4f4"/><circle cx="479.8" cy="205" r="1" fill="#e0e0e0"/><circle cx="438.7" cy="281.6" r="0.8" fill="#777"/>
<rect x="428.00" y="187.80" width="120.30" height="121.10" filter="url(#grain)" opacity="0.13" style="mix-blend-mode:overlay"/>
</g>
<g clip-path="url(#c5)">
<rect x="35.00" y="320.60" width="120.30" height="120.30" fill="#b6b6b6"/>
<rect x="45.00" y="320.60" width="19.50" height="120.30" fill="url(#p2)"/>
<rect x="89.80" y="320.60" width="19.50" height="120.30" fill="url(#p2)"/>
<rect x="134.40" y="320.60" width="19.50" height="120.30" fill="url(#p2)"/>
<rect x="35.00" y="320.60" width="120.30" height="120.30" filter="url(#grain)" opacity="0.13" style="mix-blend-mode:overlay"/>
</g>
<g clip-path="url(#c6)">
<rect x="165.60" y="320.60" width="120.30" height="120.30" fill="#c0c0c0"/>
<rect x="160.30" y="320.60" width="18.30" height="120.30" fill="url(#p3)"/>
<rect x="196.20" y="320.60" width="18.30" height="120.30" fill="url(#p3)"/>
<rect x="231.90" y="320.60" width="18.30" height="120.30" fill="url(#p3)"/>
<rect x="267.40" y="320.60" width="18.30" height="120.30" fill="url(#p3)"/>
<rect x="165.60" y="320.60" width="120.30" height="120.30" filter="url(#grain)" opacity="0.13" style="mix-blend-mode:overlay"/>
</g>
<g clip-path="url(#c7)">
<rect x="297.40" y="320.60" width="120.30" height="120.30" fill="#bababa"/>
<rect x="291.60" y="320.60" width="18.50" height="120.30" fill="url(#p3)"/>
<rect x="318.30" y="320.60" width="18.50" height="120.30" fill="url(#p3)"/>
<rect x="345.00" y="320.60" width="18.50" height="120.30" fill="url(#p3)"/>
<rect x="371.70" y="320.60" width="18.50" height="120.30" fill="url(#p3)"/>
<rect x="398.40" y="320.60" width="18.50" height="120.30" fill="url(#p3)"/>
<rect x="297.40" y="320.60" width="120.30" height="120.30" filter="url(#grain)" opacity="0.13" style="mix-blend-mode:overlay"/>
</g>
<g clip-path="url(#c8)">
<rect x="428.00" y="320.60" width="120.30" height="120.30" fill="#000"/>
<g transform="translate(0,320.6) skewX(1.3) translate(0,-320.6)">
<rect x="414.60" y="320.60" width="45.20" height="120.30" fill="url(#p24)"/>
<rect x="459.60" y="320.60" width="45.20" height="120.30" fill="url(#p24)"/>
<rect x="503.60" y="320.60" width="45.20" height="120.30" fill="url(#p24)"/>
</g>
<circle cx="441" cy="405.4" r="1.2" fill="#222"/><ellipse cx="471.5" cy="338.7" rx="1.8" ry="0.8" fill="#333"/><circle cx="459.2" cy="343.3" r="0.9" fill="#222"/>
<rect x="428.00" y="320.60" width="120.30" height="120.30" filter="url(#grain)" opacity="0.13" style="mix-blend-mode:overlay"/>
</g>
<rect x="125.50" y="299.30" width="24.50" height="3.50" fill="#fff"/>
<rect x="125.50" y="432.20" width="24.50" height="3.50" fill="#fff"/>
<rect x="256.10" y="299.30" width="24.50" height="3.50" fill="#fff"/>
<rect x="256.10" y="432.20" width="24.50" height="3.50" fill="#fff"/>
<rect x="387.90" y="299.30" width="24.50" height="3.50" fill="#fff"/>
<rect x="387.90" y="432.20" width="24.50" height="3.50" fill="#fff"/>
<rect x="518.50" y="299.30" width="24.50" height="3.50" fill="#fff"/>
<rect x="518.50" y="432.20" width="24.50" height="3.50" fill="#fff"/>
<text x="3.90" y="178.50" font-size="8.2" text-anchor="start" font-weight="bold" font-style="normal" fill="#000">c</text>
<text x="96.85" y="185.80" font-size="8" text-anchor="middle" font-weight="normal" font-style="normal" fill="#000">500 µm</text>
<text x="227.45" y="185.80" font-size="8" text-anchor="middle" font-weight="normal" font-style="normal" fill="#000">400 µm</text>
<text x="359.25" y="185.80" font-size="8" text-anchor="middle" font-weight="normal" font-style="normal" fill="#000">300 µm</text>
<text x="489.85" y="185.80" font-size="8" text-anchor="middle" font-weight="normal" font-style="normal" fill="#000">250 µm</text>
<text x="287.90" y="172.30" font-size="8" text-anchor="middle" font-weight="normal" font-style="normal" fill="#000">decreasing line separation</text>
<line x1="249.70" y1="176.20" x2="326.00" y2="176.20" stroke="#000" stroke-width="1.3"/>
<path d="M325.3,174.2 L330.2,176.2 L325.3,178.2 Z" fill="#000"/>
<text x="28.30" y="248.40" font-size="8" text-anchor="middle" font-weight="normal" font-style="normal" fill="#000" transform="rotate(-90 28.3 248.4)">4%&#160;&#160;LB gelatin</text>
<text x="28.30" y="380.50" font-size="8" text-anchor="middle" font-weight="normal" font-style="normal" fill="#000" transform="rotate(-90 28.3 380.5)">4% LB gelatin + 0.25% XG</text>
<text x="1.20" y="466.20" font-size="7.4" text-anchor="start" font-weight="bold" font-style="normal" fill="#000">d</text>
<rect x="34.80" y="464.30" width="514.10" height="24.70" fill="#030303"/>
<g clip-path="url(#cd)">
<g filter="url(#bl1)">
<path d="M30,483.8 L176,483.6 L179,482 L182,477.5 L200,474.2 L230,470.6 L250,467.8 L265,467.0 L335,467.0 L347,469.6 L356,470.6 L382,475.6 L403,480.8 L424,483.6 L440,484.3 L555,484.4" fill="none" stroke="#5a5a5a" stroke-width="8" stroke-linejoin="round"/>
<path d="M30,483.8 L176,483.6 L179,482 L182,477.5 L200,474.2 L230,470.6 L250,467.8 L265,467.0 L335,467.0 L347,469.6 L356,470.6 L382,475.6 L403,480.8 L424,483.6 L440,484.3 L555,484.4" fill="none" stroke="#1e1e1e" stroke-width="16" stroke-opacity="0.6" stroke-linejoin="round"/>
</g>
<g filter="url(#bl2)"><ellipse cx="36.0" cy="483.9" rx="2.7" ry="2.8" fill="#979797"/><ellipse cx="38.4" cy="483.3" rx="2.1" ry="3.0" fill="#a3a3a3"/><ellipse cx="41.3" cy="483.5" rx="1.5" ry="3.2" fill="#787878"/><ellipse cx="44.0" cy="484.6" rx="2.8" ry="3.0" fill="#737373"/><ellipse cx="46.6" cy="483.0" rx="2.1" ry="2.3" fill="#7d7d7d"/><ellipse cx="48.5" cy="483.0" rx="2.0" ry="2.7" fill="#3b3b3b"/><ellipse cx="51.4" cy="484.0" rx="2.1" ry="3.0" fill="#464646"/><ellipse cx="53.8" cy="484.6" rx="2.8" ry="3.2" fill="#3d3d3d"/><ellipse cx="56.5" cy="483.3" rx="1.8" ry="2.3" fill="#3e3e3e"/><ellipse cx="59.3" cy="484.3" rx="1.9" ry="3.3" fill="#939393"/><ellipse cx="62.3" cy="483.3" rx="2.7" ry="2.8" fill="#707070"/><ellipse cx="65.4" cy="483.1" rx="2.3" ry="3.1" fill="#929292"/><ellipse cx="67.5" cy="483.5" rx="2.7" ry="3.1" fill="#777777"/><ellipse cx="69.3" cy="483.1" rx="1.5" ry="3.2" fill="#858585"/><ellipse cx="71.1" cy="483.7" rx="1.7" ry="3.1" fill="#a1a1a1"/><ellipse cx="73.0" cy="483.1" rx="2.0" ry="2.5" fill="#a8a8a8"/><ellipse cx="75.0" cy="484.2" rx="1.8" ry="3.3" fill="#c5c5c5"/><ellipse cx="76.9" cy="484.3" rx="2.3" ry="2.3" fill="#929292"/><ellipse cx="80.1" cy="483.3" rx="2.5" ry="2.6" fill="#828282"/><ellipse cx="82.2" cy="483.1" rx="2.2" ry="2.5" fill="#767676"/><ellipse cx="84.7" cy="483.7" rx="2.7" ry="2.8" fill="#909090"/><ellipse cx="87.3" cy="483.2" rx="1.6" ry="3.3" fill="#bcbcbc"/><ellipse cx="90.2" cy="483.2" rx="2.4" ry="3.3" fill="#858585"/><ellipse cx="92.1" cy="484.3" rx="2.2" ry="2.7" fill="#c3c3c3"/><ellipse cx="93.9" cy="484.5" rx="1.7" ry="3.0" fill="#737373"/><ellipse cx="95.9" cy="483.9" rx="1.8" ry="2.4" fill="#b8b8b8"/><ellipse cx="98.6" cy="483.3" rx="2.2" ry="3.2" fill="#767676"/><ellipse cx="101.2" cy="484.4" rx="1.7" ry="2.2" fill="#888888"/><ellipse cx="103.2" cy="483.0" rx="1.6" ry="2.6" fill="#979797"/><ellipse cx="105.7" cy="483.5" rx="2.6" ry="3.4" fill="#7b7b7b"/><ellipse cx="108.4" cy="483.8" rx="1.6" ry="2.2" fill="#acacac"/><ellipse cx="110.0" cy="484.0" rx="2.7" ry="2.2" fill="#c0c0c0"/><ellipse cx="112.6" cy="484.1" rx="1.8" ry="3.4" fill="#9a9a9a"/><ellipse cx="114.4" cy="484.1" rx="2.7" ry="3.1" fill="#a0a0a0"/><ellipse cx="117.1" cy="484.3" rx="1.9" ry="3.0" fill="#b5b5b5"/><ellipse cx="120.1" cy="483.5" rx="2.5" ry="3.2" fill="#bcbcbc"/><ellipse cx="122.6" cy="483.5" rx="2.2" ry="2.9" fill="#a6a6a6"/><ellipse cx="124.4" cy="484.5" rx="2.6" ry="3.1" fill="#a8a8a8"/><ellipse cx="126.6" cy="483.8" rx="2.0" ry="3.2" fill="#b0b0b0"/><ellipse cx="128.3" cy="482.9" rx="2.2" ry="2.8" fill="#b2b2b2"/><ellipse cx="130.3" cy="483.7" rx="2.3" ry="3.3" fill="#adadad"/><ellipse cx="132.3" cy="483.3" rx="2.3" ry="2.4" fill="#707070"/><ellipse cx="134.2" cy="483.9" rx="2.0" ry="3.3" fill="#bfbfbf"/><ellipse cx="136.3" cy="483.2" rx="2.0" ry="3.2" fill="#aaaaaa"/><ellipse cx="139.4" cy="483.5" rx="2.2" ry="2.6" fill="#bdbdbd"/><ellipse cx="141.2" cy="484.2" rx="2.6" ry="3.1" fill="#9b9b9b"/><ellipse cx="144.3" cy="483.1" rx="2.0" ry="2.5" fill="#888888"/><ellipse cx="146.2" cy="483.8" rx="2.1" ry="2.6" fill="#949494"/><ellipse cx="149.2" cy="483.6" rx="1.5" ry="2.2" fill="#c6c6c6"/><ellipse cx="152.2" cy="484.0" rx="2.2" ry="2.6" fill="#737373"/><ellipse cx="155.1" cy="483.0" rx="2.0" ry="2.2" fill="#717171"/><ellipse cx="158.0" cy="483.1" rx="1.5" ry="3.0" fill="#848484"/><ellipse cx="160.3" cy="483.9" rx="2.5" ry="3.4" fill="#a7a7a7"/><ellipse cx="163.0" cy="483.6" rx="1.7" ry="2.2" fill="#818181"/><ellipse cx="165.3" cy="483.1" rx="1.8" ry="2.6" fill="#aeaeae"/><ellipse cx="168.1" cy="483.8" rx="2.5" ry="2.7" fill="#9d9d9d"/><ellipse cx="170.9" cy="482.9" rx="2.7" ry="3.1" fill="#bfbfbf"/><ellipse cx="172.7" cy="483.8" rx="2.7" ry="2.7" fill="#979797"/><ellipse cx="175.2" cy="484.1" rx="2.7" ry="2.8" fill="#bdbdbd"/><ellipse cx="177.9" cy="482.9" rx="2.5" ry="3.0" fill="#828282"/><ellipse cx="180.6" cy="480.2" rx="2.8" ry="3.4" fill="#828282"/><ellipse cx="183.1" cy="477.0" rx="2.7" ry="3.2" fill="#b5b5b5"/><ellipse cx="185.3" cy="476.8" rx="2.2" ry="3.1" fill="#777777"/><ellipse cx="187.6" cy="477.0" rx="1.5" ry="3.2" fill="#727272"/><ellipse cx="189.5" cy="476.6" rx="1.6" ry="2.4" fill="#8d8d8d"/><ellipse cx="191.9" cy="476.2" rx="2.4" ry="3.3" fill="#afafaf"/><ellipse cx="194.3" cy="474.6" rx="1.7" ry="2.8" fill="#c3c3c3"/><ellipse cx="196.4" cy="475.1" rx="2.1" ry="3.2" fill="#b0b0b0"/><ellipse cx="198.9" cy="474.2" rx="2.6" ry="3.3" fill="#8b8b8b"/><ellipse cx="200.8" cy="474.9" rx="2.1" ry="2.9" fill="#bababa"/><ellipse cx="202.7" cy="473.9" rx="2.2" ry="2.2" fill="#9f9f9f"/><ellipse cx="205.9" cy="473.3" rx="2.5" ry="2.9" fill="#9d9d9d"/><ellipse cx="208.3" cy="472.5" rx="2.2" ry="2.7" fill="#acacac"/><ellipse cx="211.4" cy="472.5" rx="2.1" ry="2.4" fill="#c1c1c1"/><ellipse cx="213.7" cy="473.2" rx="2.1" ry="2.6" fill="#b7b7b7"/><ellipse cx="215.6" cy="473.0" rx="1.6" ry="3.1" fill="#a6a6a6"/><ellipse cx="217.2" cy="471.7" rx="2.4" ry="2.6" fill="#818181"/><ellipse cx="219.4" cy="471.2" rx="2.4" ry="2.3" fill="#a6a6a6"/><ellipse cx="221.8" cy="471.1" rx="2.1" ry="2.7" fill="#868686"/><ellipse cx="224.0" cy="471.4" rx="1.6" ry="2.4" fill="#949494"/><ellipse cx="226.6" cy="471.1" rx="2.6" ry="2.9" fill="#a8a8a8"/><ellipse cx="229.6" cy="471.0" rx="2.5" ry="3.3" fill="#848484"/><ellipse cx="231.7" cy="471.0" rx="1.7" ry="3.4" fill="#8b8b8b"/><ellipse cx="234.7" cy="469.5" rx="2.4" ry="2.5" fill="#7b7b7b"/><ellipse cx="236.5" cy="469.6" rx="2.5" ry="2.4" fill="#b9b9b9"/><ellipse cx="238.7" cy="468.6" rx="1.7" ry="3.0" fill="#acacac"/><ellipse cx="241.8" cy="468.3" rx="2.1" ry="3.1" fill="#c5c5c5"/><ellipse cx="244.2" cy="468.1" rx="1.5" ry="2.3" fill="#acacac"/><ellipse cx="245.9" cy="468.4" rx="2.2" ry="2.4" fill="#a0a0a0"/><ellipse cx="247.8" cy="468.7" rx="2.8" ry="3.3" fill="#818181"/><ellipse cx="249.5" cy="468.6" rx="2.0" ry="3.1" fill="#757575"/><ellipse cx="251.6" cy="467.7" rx="2.0" ry="2.1" fill="#999999"/><ellipse cx="253.3" cy="468.2" rx="1.7" ry="2.0" fill="#adadad"/><ellipse cx="256.0" cy="467.0" rx="1.6" ry="2.0" fill="#939393"/><ellipse cx="257.7" cy="467.9" rx="2.4" ry="2.3" fill="#bebebe"/><ellipse cx="260.3" cy="467.4" rx="2.1" ry="2.4" fill="#939393"/><ellipse cx="263.2" cy="467.8" rx="2.4" ry="2.2" fill="#868686"/><ellipse cx="266.1" cy="467.6" rx="2.6" ry="2.2" fill="#939393"/><ellipse cx="268.9" cy="466.8" rx="2.4" ry="1.7" fill="#b3b3b3"/><ellipse cx="271.0" cy="466.2" rx="1.9" ry="2.1" fill="#999999"/><ellipse cx="273.6" cy="467.7" rx="2.3" ry="1.9" fill="#848484"/><ellipse cx="276.3" cy="467.1" rx="1.9" ry="2.4" fill="#a2a2a2"/><ellipse cx="278.9" cy="467.4" rx="2.8" ry="1.6" fill="#adadad"/><ellipse cx="281.5" cy="466.6" rx="2.0" ry="1.6" fill="#b1b1b1"/><ellipse cx="283.4" cy="466.4" rx="1.8" ry="2.3" fill="#919191"/><ellipse cx="285.9" cy="467.7" rx="2.2" ry="2.4" fill="#9c9c9c"/><ellipse cx="288.5" cy="466.3" rx="2.2" ry="2.2" fill="#b7b7b7"/><ellipse cx="290.2" cy="466.5" rx="2.1" ry="1.7" fill="#c1c1c1"/><ellipse cx="292.6" cy="466.3" rx="2.7" ry="1.9" fill="#a5a5a5"/><ellipse cx="295.0" cy="466.8" rx="1.8" ry="2.1" fill="#a4a4a4"/><ellipse cx="297.5" cy="467.3" rx="1.8" ry="1.6" fill="#888888"/><ellipse cx="299.5" cy="466.5" rx="2.5" ry="1.9" fill="#737373"/><ellipse cx="302.5" cy="466.3" rx="2.8" ry="2.4" fill="#b1b1b1"/><ellipse cx="304.3" cy="466.9" rx="2.1" ry="2.4" fill="#bfbfbf"/><ellipse cx="306.3" cy="467.7" rx="2.4" ry="2.0" fill="#9e9e9e"/><ellipse cx="309.4" cy="467.2" rx="1.6" ry="2.1" fill="#b7b7b7"/><ellipse cx="311.7" cy="466.3" rx="2.1" ry="1.7" fill="#818181"/><ellipse cx="314.1" cy="466.9" rx="1.8" ry="2.1" fill="#aaaaaa"/><ellipse cx="316.3" cy="467.0" rx="2.8" ry="2.4" fill="#b4b4b4"/><ellipse cx="319.1" cy="466.4" rx="2.6" ry="2.2" fill="#848484"/><ellipse cx="321.7" cy="466.6" rx="2.4" ry="2.1" fill="#8f8f8f"/><ellipse cx="324.2" cy="467.4" rx="1.7" ry="1.8" fill="#a7a7a7"/><ellipse cx="327.4" cy="467.6" rx="1.5" ry="1.6" fill="#c0c0c0"/><ellipse cx="329.4" cy="467.2" rx="1.5" ry="2.0" fill="#959595"/><ellipse cx="331.2" cy="467.3" rx="2.2" ry="2.1" fill="#777777"/><ellipse cx="333.4" cy="466.5" rx="1.9" ry="2.2" fill="#9a9a9a"/><ellipse cx="336.3" cy="466.7" rx="2.5" ry="2.1" fill="#767676"/><ellipse cx="339.1" cy="467.8" rx="1.8" ry="2.2" fill="#828282"/><ellipse cx="341.3" cy="469.2" rx="1.9" ry="2.9" fill="#a9a9a9"/><ellipse cx="344.1" cy="468.9" rx="1.9" ry="2.3" fill="#c1c1c1"/><ellipse cx="347.1" cy="468.9" rx="2.2" ry="2.8" fill="#767676"/><ellipse cx="349.8" cy="470.4" rx="1.5" ry="2.5" fill="#8a8a8a"/><ellipse cx="352.5" cy="469.9" rx="2.4" ry="3.0" fill="#777777"/><ellipse cx="354.5" cy="470.2" rx="2.4" ry="2.6" fill="#7c7c7c"/><ellipse cx="356.3" cy="470.8" rx="2.7" ry="3.3" fill="#aeaeae"/><ellipse cx="359.4" cy="471.7" rx="1.8" ry="2.6" fill="#969696"/><ellipse cx="361.6" cy="472.3" rx="1.7" ry="2.6" fill="#c2c2c2"/><ellipse cx="363.8" cy="471.9" rx="1.9" ry="2.4" fill="#8f8f8f"/><ellipse cx="366.3" cy="472.6" rx="2.6" ry="2.9" fill="#b6b6b6"/><ellipse cx="368.2" cy="473.6" rx="1.8" ry="2.2" fill="#b2b2b2"/><ellipse cx="370.6" cy="473.5" rx="2.8" ry="3.0" fill="#9f9f9f"/><ellipse cx="373.5" cy="474.0" rx="2.5" ry="2.3" fill="#757575"/><ellipse cx="375.2" cy="474.9" rx="1.5" ry="3.0" fill="#b0b0b0"/><ellipse cx="377.1" cy="474.9" rx="1.7" ry="2.5" fill="#b1b1b1"/><ellipse cx="379.9" cy="475.6" rx="2.0" ry="2.6" fill="#9d9d9d"/><ellipse cx="383.0" cy="475.8" rx="2.2" ry="3.1" fill="#ababab"/><ellipse cx="385.8" cy="476.4" rx="2.6" ry="3.0" fill="#c0c0c0"/><ellipse cx="388.7" cy="477.8" rx="2.6" ry="3.3" fill="#b6b6b6"/><ellipse cx="391.4" cy="478.3" rx="2.5" ry="2.7" fill="#9e9e9e"/><ellipse cx="393.6" cy="478.9" rx="2.8" ry="2.7" fill="#7c7c7c"/><ellipse cx="395.5" cy="478.8" rx="1.8" ry="3.4" fill="#818181"/><ellipse cx="397.2" cy="478.7" rx="2.3" ry="3.1" fill="#8b8b8b"/><ellipse cx="399.1" cy="479.8" rx="2.2" ry="3.3" fill="#757575"/><ellipse cx="400.7" cy="479.7" rx="1.7" ry="2.5" fill="#797979"/><ellipse cx="403.5" cy="480.4" rx="1.7" ry="2.5" fill="#a4a4a4"/><ellipse cx="405.4" cy="480.8" rx="2.2" ry="3.2" fill="#b2b2b2"/><ellipse cx="407.7" cy="482.0" rx="2.7" ry="2.6" fill="#868686"/><ellipse cx="410.2" cy="481.7" rx="1.7" ry="2.3" fill="#c4c4c4"/><ellipse cx="413.3" cy="482.0" rx="2.1" ry="2.8" fill="#b6b6b6"/><ellipse cx="415.4" cy="482.7" rx="1.7" ry="2.2" fill="#c7c7c7"/><ellipse cx="417.7" cy="483.2" rx="2.4" ry="2.9" fill="#909090"/><ellipse cx="419.6" cy="482.7" rx="1.8" ry="3.2" fill="#7d7d7d"/><ellipse cx="422.0" cy="484.1" rx="1.8" ry="2.8" fill="#a8a8a8"/><ellipse cx="423.8" cy="482.8" rx="2.5" ry="3.2" fill="#b3b3b3"/><ellipse cx="426.7" cy="483.4" rx="2.4" ry="2.3" fill="#777777"/><ellipse cx="429.1" cy="484.6" rx="2.2" ry="3.2" fill="#999999"/><ellipse cx="431.2" cy="483.8" rx="2.7" ry="2.3" fill="#b5b5b5"/><ellipse cx="434.1" cy="484.1" rx="2.1" ry="2.4" fill="#828282"/><ellipse cx="437.1" cy="483.9" rx="1.5" ry="2.6" fill="#8b8b8b"/><ellipse cx="439.4" cy="484.0" rx="2.4" ry="2.3" fill="#aeaeae"/><ellipse cx="441.6" cy="485.0" rx="2.6" ry="3.0" fill="#989898"/><ellipse cx="443.3" cy="484.6" rx="1.7" ry="2.9" fill="#919191"/><ellipse cx="445.6" cy="485.1" rx="2.5" ry="2.4" fill="#707070"/><ellipse cx="448.2" cy="484.1" rx="2.2" ry="2.6" fill="#898989"/><ellipse cx="450.3" cy="484.6" rx="1.8" ry="2.4" fill="#929292"/><ellipse cx="453.1" cy="485.0" rx="2.2" ry="3.1" fill="#8c8c8c"/><ellipse cx="455.2" cy="483.7" rx="1.6" ry="2.3" fill="#b8b8b8"/><ellipse cx="457.9" cy="483.8" rx="2.0" ry="3.2" fill="#aeaeae"/><ellipse cx="460.4" cy="483.9" rx="1.6" ry="2.3" fill="#353535"/><ellipse cx="462.7" cy="485.0" rx="2.0" ry="2.8" fill="#353535"/><ellipse cx="465.3" cy="484.8" rx="1.9" ry="2.6" fill="#b3b3b3"/><ellipse cx="467.6" cy="484.2" rx="2.4" ry="3.4" fill="#717171"/><ellipse cx="470.5" cy="484.5" rx="1.4" ry="2.6" fill="#aaaaaa"/><ellipse cx="472.6" cy="483.7" rx="1.9" ry="2.8" fill="#a9a9a9"/><ellipse cx="475.5" cy="484.5" rx="1.6" ry="3.1" fill="#b8b8b8"/><ellipse cx="478.5" cy="484.1" rx="2.1" ry="2.4" fill="#a0a0a0"/><ellipse cx="481.2" cy="484.4" rx="2.4" ry="3.2" fill="#c6c6c6"/><ellipse cx="483.2" cy="484.5" rx="1.7" ry="2.3" fill="#c3c3c3"/><ellipse cx="485.2" cy="484.7" rx="1.9" ry="3.3" fill="#a2a2a2"/><ellipse cx="487.3" cy="483.7" rx="2.8" ry="2.4" fill="#989898"/><ellipse cx="490.4" cy="484.4" rx="2.2" ry="2.5" fill="#9f9f9f"/><ellipse cx="493.4" cy="484.9" rx="2.2" ry="2.3" fill="#c7c7c7"/><ellipse cx="496.4" cy="485.0" rx="1.7" ry="2.9" fill="#898989"/><ellipse cx="499.3" cy="484.4" rx="1.5" ry="2.2" fill="#808080"/><ellipse cx="501.2" cy="485.1" rx="2.3" ry="2.6" fill="#c6c6c6"/><ellipse cx="503.8" cy="484.2" rx="2.2" ry="3.2" fill="#b0b0b0"/><ellipse cx="505.5" cy="484.3" rx="1.6" ry="2.7" fill="#818181"/><ellipse cx="508.0" cy="484.4" rx="1.8" ry="2.9" fill="#7f7f7f"/><ellipse cx="510.1" cy="483.6" rx="2.3" ry="2.4" fill="#a8a8a8"/><ellipse cx="513.2" cy="484.3" rx="2.0" ry="2.9" fill="#a4a4a4"/><ellipse cx="516.0" cy="484.8" rx="2.1" ry="3.4" fill="#b2b2b2"/><ellipse cx="518.9" cy="484.2" rx="2.0" ry="2.9" fill="#bbbbbb"/><ellipse cx="521.9" cy="484.4" rx="2.0" ry="3.3" fill="#9e9e9e"/><ellipse cx="524.1" cy="484.7" rx="2.7" ry="3.1" fill="#747474"/><ellipse cx="526.6" cy="484.1" rx="2.2" ry="2.3" fill="#b2b2b2"/><ellipse cx="528.4" cy="484.4" rx="2.0" ry="2.3" fill="#979797"/><ellipse cx="531.1" cy="484.0" rx="1.8" ry="2.7" fill="#9e9e9e"/><ellipse cx="533.1" cy="485.0" rx="2.8" ry="3.0" fill="#767676"/><ellipse cx="536.1" cy="484.9" rx="1.7" ry="3.1" fill="#959595"/><ellipse cx="538.6" cy="483.7" rx="2.5" ry="2.3" fill="#bfbfbf"/><ellipse cx="541.1" cy="483.6" rx="1.7" ry="2.6" fill="#c3c3c3"/><ellipse cx="543.2" cy="485.0" rx="2.5" ry="2.7" fill="#757575"/><ellipse cx="545.3" cy="483.7" rx="1.4" ry="3.3" fill="#a3a3a3"/><ellipse cx="547.4" cy="485.1" rx="2.8" ry="2.8" fill="#9b9b9b"/><ellipse cx="83.5" cy="483.0" rx="1.2" ry="3.5" fill="#f0f0f0"/><ellipse cx="170.0" cy="483.0" rx="3.0" ry="3.5" fill="#e8e8e8"/><ellipse cx="176.0" cy="482.5" rx="2.0" ry="3.5" fill="#ffffff"/><ellipse cx="42.0" cy="482.5" rx="4.0" ry="2.6" fill="#c8c8c8"/><ellipse cx="335.0" cy="466.5" rx="4.0" ry="2.2" fill="#d0d0d0"/><ellipse cx="425.0" cy="484.0" rx="4.0" ry="3.0" fill="#d0d0d0"/></g>
</g>
<rect x="519.30" y="477.10" width="23.40" height="3.50" fill="#fff"/>
<text x="1.20" y="513.50" font-size="7.6" text-anchor="start" font-weight="bold" font-style="normal" fill="#000">e</text>
<rect x="35.90" y="547.20" width="28.80" height="81.80" fill="#8fc0f4"/>
<rect x="73.00" y="561.60" width="29.30" height="67.40" fill="#2a7bd8"/>
<line x1="73.60" y1="561.60" x2="73.60" y2="629.00" stroke="#1565cc" stroke-width="1.0"/>
<line x1="50.10" y1="525.00" x2="50.10" y2="568.40" stroke="#000" stroke-width="1.3"/>
<line x1="48.90" y1="525.00" x2="51.30" y2="525.00" stroke="#000" stroke-width="1.0"/>
<line x1="48.90" y1="568.40" x2="51.30" y2="568.40" stroke="#000" stroke-width="1.0"/>
<line x1="88.10" y1="540.30" x2="88.10" y2="582.00" stroke="#000" stroke-width="1.3"/>
<line x1="86.90" y1="540.30" x2="89.30" y2="540.30" stroke="#000" stroke-width="1.0"/>
<line x1="86.90" y1="582.00" x2="89.30" y2="582.00" stroke="#000" stroke-width="1.0"/>
<text x="24.10" y="631.00" font-size="8" text-anchor="end" font-weight="normal" font-style="normal" fill="#000">0</text>
<line x1="24.90" y1="629.00" x2="27.10" y2="629.00" stroke="#000" stroke-width="0.8"/>
<line x1="25.70" y1="617.94" x2="27.10" y2="617.94" stroke="#000" stroke-width="0.8"/>
<text x="24.10" y="608.88" font-size="8" text-anchor="end" font-weight="normal" font-style="normal" fill="#000">4</text>
<line x1="24.90" y1="606.88" x2="27.10" y2="606.88" stroke="#000" stroke-width="0.8"/>
<line x1="25.70" y1="595.82" x2="27.10" y2="595.82" stroke="#000" stroke-width="0.8"/>
<text x="24.10" y="586.76" font-size="8" text-anchor="end" font-weight="normal" font-style="normal" fill="#000">8</text>
<line x1="24.90" y1="584.76" x2="27.10" y2="584.76" stroke="#000" stroke-width="0.8"/>
<line x1="25.70" y1="573.70" x2="27.10" y2="573.70" stroke="#000" stroke-width="0.8"/>
<text x="24.10" y="564.64" font-size="8" text-anchor="end" font-weight="normal" font-style="normal" fill="#000">12</text>
<line x1="24.90" y1="562.64" x2="27.10" y2="562.64" stroke="#000" stroke-width="0.8"/>
<line x1="25.70" y1="551.58" x2="27.10" y2="551.58" stroke="#000" stroke-width="0.8"/>
<text x="24.10" y="542.52" font-size="8" text-anchor="end" font-weight="normal" font-style="normal" fill="#000">16</text>
<line x1="24.90" y1="540.52" x2="27.10" y2="540.52" stroke="#000" stroke-width="0.8"/>
<line x1="25.70" y1="529.46" x2="27.10" y2="529.46" stroke="#000" stroke-width="0.8"/>
<text x="24.10" y="520.40" font-size="8" text-anchor="end" font-weight="normal" font-style="normal" fill="#000">20</text>
<line x1="24.90" y1="518.40" x2="27.10" y2="518.40" stroke="#000" stroke-width="0.8"/>
<path d="M27.10,518.40 L27.10,629.00 L110.60,629.00 L110.60,518.40 Z" fill="none" stroke="#000" stroke-width="1.2"/>
<text x="13.90" y="573.40" font-size="8" text-anchor="middle" font-weight="normal" font-style="normal" fill="#000" transform="rotate(-90 13.9 573.4)">kPa</text>
<rect x="141.30" y="579.90" width="27.70" height="49.10" fill="#808080"/>
<rect x="178.20" y="603.00" width="28.20" height="26.00" fill="#333333"/>
<line x1="154.90" y1="563.20" x2="154.90" y2="596.00" stroke="#000" stroke-width="1.3"/>
<line x1="153.70" y1="563.20" x2="156.10" y2="563.20" stroke="#000" stroke-width="1.0"/>
<line x1="153.70" y1="596.00" x2="156.10" y2="596.00" stroke="#000" stroke-width="1.0"/>
<line x1="192.40" y1="583.90" x2="192.40" y2="620.70" stroke="#000" stroke-width="1.3"/>
<line x1="191.20" y1="583.90" x2="193.60" y2="583.90" stroke="#000" stroke-width="1.0"/>
<line x1="191.20" y1="620.70" x2="193.60" y2="620.70" stroke="#000" stroke-width="1.0"/>
<text x="126.90" y="631.00" font-size="8" text-anchor="end" font-weight="normal" font-style="normal" fill="#000">0</text>
<line x1="129.70" y1="629.00" x2="131.90" y2="629.00" stroke="#000" stroke-width="0.8"/>
<line x1="130.50" y1="617.94" x2="131.90" y2="617.94" stroke="#000" stroke-width="0.8"/>
<text x="126.90" y="608.88" font-size="8" text-anchor="end" font-weight="normal" font-style="normal" fill="#000">0.2</text>
<line x1="129.70" y1="606.88" x2="131.90" y2="606.88" stroke="#000" stroke-width="0.8"/>
<line x1="130.50" y1="595.82" x2="131.90" y2="595.82" stroke="#000" stroke-width="0.8"/>
<text x="126.90" y="586.76" font-size="8" text-anchor="end" font-weight="normal" font-style="normal" fill="#000">0.4</text>
<line x1="129.70" y1="584.76" x2="131.90" y2="584.76" stroke="#000" stroke-width="0.8"/>
<line x1="130.50" y1="573.70" x2="131.90" y2="573.70" stroke="#000" stroke-width="0.8"/>
<text x="126.90" y="564.64" font-size="8" text-anchor="end" font-weight="normal" font-style="normal" fill="#000">0.6</text>
<line x1="129.70" y1="562.64" x2="131.90" y2="562.64" stroke="#000" stroke-width="0.8"/>
<line x1="130.50" y1="551.58" x2="131.90" y2="551.58" stroke="#000" stroke-width="0.8"/>
<text x="126.90" y="542.52" font-size="8" text-anchor="end" font-weight="normal" font-style="normal" fill="#000">0.8</text>
<line x1="129.70" y1="540.52" x2="131.90" y2="540.52" stroke="#000" stroke-width="0.8"/>
<line x1="130.50" y1="529.46" x2="131.90" y2="529.46" stroke="#000" stroke-width="0.8"/>
<text x="126.90" y="520.40" font-size="8" text-anchor="end" font-weight="normal" font-style="normal" fill="#000">1</text>
<line x1="129.70" y1="518.40" x2="131.90" y2="518.40" stroke="#000" stroke-width="0.8"/>
<path d="M131.90,518.40 L131.90,629.00 L214.30,629.00 L214.30,518.40 Z" fill="none" stroke="#000" stroke-width="1.2"/>
<text x="33.60" y="637.00" font-size="8" text-anchor="start" font-weight="normal" font-style="normal" fill="#000" transform="rotate(45 33.6 637.0)">7.5% HB</text>
<text x="72.20" y="637.00" font-size="8" text-anchor="start" font-weight="normal" font-style="normal" fill="#000" transform="rotate(45 72.2 637.0)">7.5% HB + XG</text>
<text x="140.90" y="637.00" font-size="8" text-anchor="start" font-weight="normal" font-style="normal" fill="#000" transform="rotate(45 140.9 637.0)">4% LB</text>
<text x="178.10" y="637.00" font-size="8" text-anchor="start" font-weight="normal" font-style="normal" fill="#000" transform="rotate(45 178.1 637.0)">4% LB + XG</text>
<text x="228.50" y="510.80" font-size="8.4" text-anchor="start" font-weight="bold" font-style="normal" fill="#000">f</text>
<rect x="386.00" y="520.40" width="176.50" height="108.80" fill="#efefef"/>
<rect x="386.00" y="614.50" width="176.50" height="14.70" fill="#f8f8f8"/>
<rect x="266.30" y="602.50" width="25.10" height="12.00" fill="#fcc6cb"/>
<rect x="266.30" y="614.50" width="25.10" height="14.70" fill="#ffe2e5"/>
<rect x="310.00" y="605.10" width="24.20" height="9.40" fill="#86b8f1"/>
<rect x="310.00" y="614.50" width="24.20" height="14.70" fill="#c6def9"/>
<rect x="353.60" y="607.60" width="24.00" height="6.90" fill="#303030"/>
<rect x="353.60" y="614.50" width="24.00" height="14.70" fill="#8a8a8a"/>
<rect x="394.20" y="587.10" width="25.50" height="27.40" fill="#8cbdf2"/>
<rect x="394.20" y="614.50" width="25.50" height="14.70" fill="#c9e0fa"/>
<rect x="438.30" y="578.00" width="24.80" height="36.50" fill="#2776d6"/>
<rect x="438.30" y="614.50" width="24.80" height="14.70" fill="#8cb9ee"/>
<rect x="482.40" y="576.30" width="24.40" height="38.20" fill="#808080"/>
<rect x="482.40" y="614.50" width="24.40" height="14.70" fill="#c2c2c2"/>
<rect x="526.50" y="561.70" width="24.10" height="52.80" fill="#333333"/>
<rect x="526.50" y="614.50" width="24.10" height="14.70" fill="#9a9a9a"/>
<path d="M266.3,629.2 L266.3,602.5 L291.4,602.5 L291.4,629.2" fill="none" stroke="#000" stroke-width="1"/>
<line x1="258.00" y1="614.50" x2="563.00" y2="614.50" stroke="#ffffff" stroke-width="1" stroke-dasharray="2.5,1.5"/>
<text x="278.65" y="556.00" font-size="7.5" text-anchor="middle" font-weight="normal" font-style="italic" fill="#000" style="stroke-width:0">C,D</text>
<line x1="278.85" y1="558.60" x2="278.85" y2="598.80" stroke="#555" stroke-width="1.1"/>
<line x1="278.85" y1="602.00" x2="278.85" y2="603.00" stroke="#000" stroke-width="1.4"/>
<line x1="277.85" y1="602.00" x2="279.85" y2="602.00" stroke="#000" stroke-width="1.0"/>
<line x1="277.85" y1="603.00" x2="279.85" y2="603.00" stroke="#000" stroke-width="1.0"/>
<text x="321.90" y="556.00" font-size="7.5" text-anchor="middle" font-weight="normal" font-style="italic" fill="#000" style="stroke-width:0">D</text>
<line x1="322.10" y1="558.60" x2="322.10" y2="601.30" stroke="#555" stroke-width="1.1"/>
<line x1="322.10" y1="604.50" x2="322.10" y2="605.50" stroke="#000" stroke-width="1.4"/>
<line x1="321.10" y1="604.50" x2="323.10" y2="604.50" stroke="#000" stroke-width="1.0"/>
<line x1="321.10" y1="605.50" x2="323.10" y2="605.50" stroke="#000" stroke-width="1.0"/>
<text x="365.40" y="556.00" font-size="7.5" text-anchor="middle" font-weight="normal" font-style="italic" fill="#000" style="stroke-width:0">D</text>
<line x1="365.60" y1="558.60" x2="365.60" y2="603.60" stroke="#555" stroke-width="1.1"/>
<line x1="365.60" y1="606.80" x2="365.60" y2="608.20" stroke="#000" stroke-width="1.4"/>
<line x1="364.60" y1="606.80" x2="366.60" y2="606.80" stroke="#000" stroke-width="1.0"/>
<line x1="364.60" y1="608.20" x2="366.60" y2="608.20" stroke="#000" stroke-width="1.0"/>
<text x="406.75" y="556.00" font-size="7.5" text-anchor="middle" font-weight="normal" font-style="italic" fill="#000" style="stroke-width:0">B, C</text>
<line x1="406.95" y1="558.60" x2="406.95" y2="578.20" stroke="#555" stroke-width="1.1"/>
<line x1="406.95" y1="581.40" x2="406.95" y2="592.20" stroke="#000" stroke-width="1.4"/>
<line x1="405.95" y1="581.40" x2="407.95" y2="581.40" stroke="#000" stroke-width="1.0"/>
<line x1="405.95" y1="592.20" x2="407.95" y2="592.20" stroke="#000" stroke-width="1.0"/>
<text x="450.50" y="556.00" font-size="7.5" text-anchor="middle" font-weight="normal" font-style="italic" fill="#000" style="stroke-width:0">A, B</text>
<line x1="450.70" y1="558.60" x2="450.70" y2="568.70" stroke="#555" stroke-width="1.1"/>
<line x1="450.70" y1="571.90" x2="450.70" y2="584.10" stroke="#000" stroke-width="1.4"/>
<line x1="449.70" y1="571.90" x2="451.70" y2="571.90" stroke="#000" stroke-width="1.0"/>
<line x1="449.70" y1="584.10" x2="451.70" y2="584.10" stroke="#000" stroke-width="1.0"/>
<text x="494.40" y="556.00" font-size="7.5" text-anchor="middle" font-weight="normal" font-style="italic" fill="#000" style="stroke-width:0">A, B</text>
<line x1="494.60" y1="558.60" x2="494.60" y2="569.70" stroke="#555" stroke-width="1.1"/>
<line x1="494.60" y1="572.90" x2="494.60" y2="580.40" stroke="#000" stroke-width="1.4"/>
<line x1="493.60" y1="572.90" x2="495.60" y2="572.90" stroke="#000" stroke-width="1.0"/>
<line x1="493.60" y1="580.40" x2="495.60" y2="580.40" stroke="#000" stroke-width="1.0"/>
<text x="538.35" y="556.00" font-size="7.5" text-anchor="middle" font-weight="normal" font-style="italic" fill="#000" style="stroke-width:0">A</text>
<line x1="538.55" y1="558.30" x2="538.55" y2="565.10" stroke="#000" stroke-width="1.4"/>
<line x1="537.55" y1="558.30" x2="539.55" y2="558.30" stroke="#000" stroke-width="1.0"/>
<line x1="537.55" y1="565.10" x2="539.55" y2="565.10" stroke="#000" stroke-width="1.0"/>
<text x="266.30" y="533.30" font-size="8" text-anchor="start" font-weight="normal" font-style="normal" fill="#000">planar substrates</text>
<text x="394.20" y="533.40" font-size="8" text-anchor="start" font-weight="normal" font-style="normal" fill="#000">lines on 7.5% HB gelatin composed of:</text>
<text x="253.20" y="631.20" font-size="8" text-anchor="end" font-weight="normal" font-style="normal" fill="#000">0</text>
<line x1="255.80" y1="629.20" x2="258.00" y2="629.20" stroke="#000" stroke-width="0.8"/>
<line x1="256.60" y1="618.16" x2="258.00" y2="618.16" stroke="#000" stroke-width="0.8"/>
<text x="253.20" y="609.12" font-size="8" text-anchor="end" font-weight="normal" font-style="normal" fill="#000">0.2</text>
<line x1="255.80" y1="607.12" x2="258.00" y2="607.12" stroke="#000" stroke-width="0.8"/>
<line x1="256.60" y1="596.08" x2="258.00" y2="596.08" stroke="#000" stroke-width="0.8"/>
<text x="253.20" y="587.04" font-size="8" text-anchor="end" font-weight="normal" font-style="normal" fill="#000">0.4</text>
<line x1="255.80" y1="585.04" x2="258.00" y2="585.04" stroke="#000" stroke-width="0.8"/>
<line x1="256.60" y1="574.00" x2="258.00" y2="574.00" stroke="#000" stroke-width="0.8"/>
<text x="253.20" y="564.96" font-size="8" text-anchor="end" font-weight="normal" font-style="normal" fill="#000">0.6</text>
<line x1="255.80" y1="562.96" x2="258.00" y2="562.96" stroke="#000" stroke-width="0.8"/>
<line x1="256.60" y1="551.92" x2="258.00" y2="551.92" stroke="#000" stroke-width="0.8"/>
<text x="253.20" y="542.88" font-size="8" text-anchor="end" font-weight="normal" font-style="normal" fill="#000">0.8</text>
<line x1="255.80" y1="540.88" x2="258.00" y2="540.88" stroke="#000" stroke-width="0.8"/>
<line x1="256.60" y1="529.84" x2="258.00" y2="529.84" stroke="#000" stroke-width="0.8"/>
<text x="253.20" y="520.80" font-size="8" text-anchor="end" font-weight="normal" font-style="normal" fill="#000">1</text>
<line x1="255.80" y1="518.80" x2="258.00" y2="518.80" stroke="#000" stroke-width="0.8"/>
<line x1="257.60" y1="629.20" x2="257.60" y2="631.20" stroke="#000" stroke-width="0.8"/>
<line x1="300.55" y1="629.20" x2="300.55" y2="631.20" stroke="#000" stroke-width="0.8"/>
<line x1="343.50" y1="629.20" x2="343.50" y2="631.20" stroke="#000" stroke-width="0.8"/>
<line x1="386.45" y1="629.20" x2="386.45" y2="631.20" stroke="#000" stroke-width="0.8"/>
<line x1="429.40" y1="629.20" x2="429.40" y2="631.20" stroke="#000" stroke-width="0.8"/>
<line x1="472.35" y1="629.20" x2="472.35" y2="631.20" stroke="#000" stroke-width="0.8"/>
<line x1="515.30" y1="629.20" x2="515.30" y2="631.20" stroke="#000" stroke-width="0.8"/>
<line x1="558.25" y1="629.20" x2="558.25" y2="631.20" stroke="#000" stroke-width="0.8"/>
<path d="M258.0,518.8 L258.0,629.2 L563.1,629.2 L563.1,518.8 Z" fill="none" stroke="#000" stroke-width="1.2"/>
<text x="236.50" y="574.60" font-size="8" text-anchor="middle" font-weight="normal" font-style="normal" fill="#000" transform="rotate(-90 236.5 574.6)">Alignment score</text>
<text x="267.85" y="637.10" font-size="8" text-anchor="start" font-weight="normal" font-style="normal" fill="#000" transform="rotate(45 267.85 637.1)">TC-PS</text>
<text x="311.10" y="637.10" font-size="8" text-anchor="start" font-weight="normal" font-style="normal" fill="#000" transform="rotate(45 311.1 637.1)">7.5% HB</text>
<text x="354.60" y="637.10" font-size="8" text-anchor="start" font-weight="normal" font-style="normal" fill="#000" transform="rotate(45 354.6 637.1)">4% LB + XG</text>
<text x="395.95" y="637.10" font-size="8" text-anchor="start" font-weight="normal" font-style="normal" fill="#000" transform="rotate(45 395.95 637.1)">7.5% HB</text>
<text x="439.70" y="637.10" font-size="8" text-anchor="start" font-weight="normal" font-style="normal" fill="#000" transform="rotate(45 439.70000000000005 637.1)">7.5% HB + XG</text>
<text x="483.60" y="637.10" font-size="8" text-anchor="start" font-weight="normal" font-style="normal" fill="#000" transform="rotate(45 483.6 637.1)">4% LB</text>
<text x="528.85" y="637.10" font-size="8" text-anchor="start" font-weight="normal" font-style="normal" fill="#000" transform="rotate(45 528.8499999999999 637.1)">4% LB + XG</text>
</svg>
</body></html>
